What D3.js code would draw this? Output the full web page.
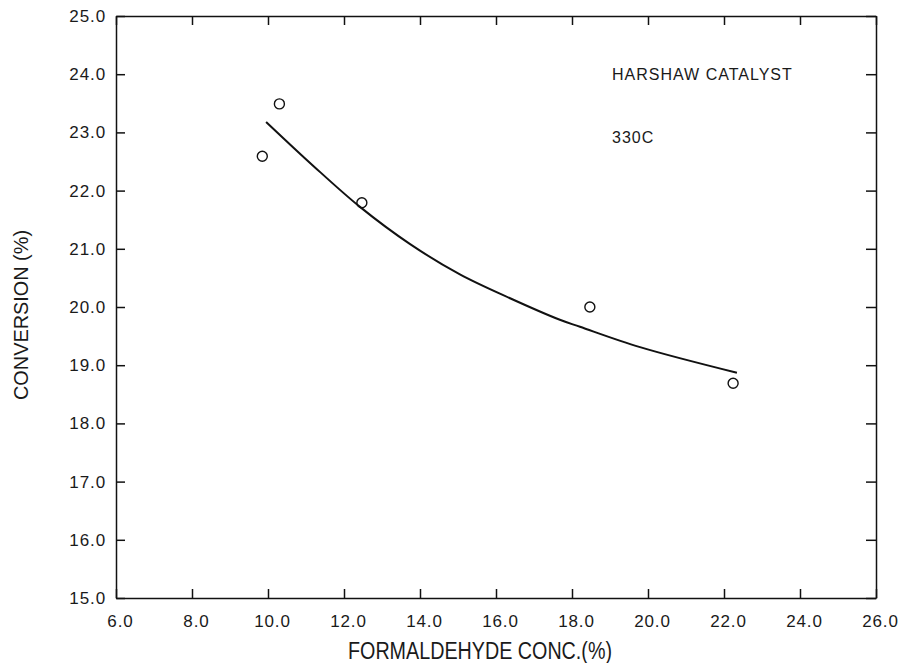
<!DOCTYPE html>
<html>
<head>
<meta charset="utf-8">
<script src="https://cdn.jsdelivr.net/npm/d3@7"></script>
<style>
  body { margin: 0; background: #fff; }
  svg text { font-family: "Liberation Sans", Arial, sans-serif; fill: #1a1a1a; }
  .tick text { font-size: 17px; letter-spacing: 0.9px; }
  .axis path, .axis line { stroke: #111; stroke-width: 1.5; }
</style>
</head>
<body>
<svg id="chart"></svg>
<script>
// measured points
let conc = [9.85, 10.3, 12.47, 18.47, 22.24];
let conversion = [22.59, 23.49, 21.79, 20.0, 18.69];

// fitted curve
let fitConc = [9.95, 11.2, 12.42, 13.74, 15.05, 16.37, 17.68, 18.21, 19.79, 22.34];
let fitConv = [23.18, 22.42, 21.72, 21.08, 20.56, 20.15, 19.78, 19.66, 19.31, 18.87];

let xTicks = [6, 8, 10, 12, 14, 16, 18, 20, 22, 24, 26];
let yTicks = [15, 16, 17, 18, 19, 20, 21, 22, 23, 24, 25];

let notes = ["HARSHAW CATALYST", "330C"];

function createChart() {
    let w = 898, h = 663;
    let left = 116, right = 876, top = 16, bottom = 598;

    let svg = d3.select("#chart")
        .attr('width', w)
        .attr('height', h);

    let x = d3.scaleLinear().domain([6, 26]).range([left, right]);
    let y = d3.scaleLinear().domain([15, 25]).range([bottom, top]);

    // bottom axis with labels, ticks pointing in
    svg.append('g')
        .attr('class', 'axis')
        .attr('transform', `translate(0,${bottom})`)
        .call(d3.axisBottom(x).tickValues(xTicks).tickSize(-9).tickSizeOuter(0)
            .tickPadding(17).tickFormat(d3.format('.1f')))
        .selectAll('text').attr('dx', 4);

    svg.append('g')
        .attr('class', 'axis')
        .attr('transform', `translate(0,${top})`)
        .call(d3.axisTop(x).tickValues(xTicks).tickSize(-9).tickSizeOuter(0).tickFormat(''));

    svg.append('g')
        .attr('class', 'axis')
        .attr('transform', `translate(${left},0)`)
        .call(d3.axisLeft(y).tickValues(yTicks).tickSize(-9).tickSizeOuter(0)
            .tickPadding(10).tickFormat(d3.format('.1f')));

    svg.append('g')
        .attr('class', 'axis')
        .attr('transform', `translate(${right},0)`)
        .call(d3.axisRight(y).tickValues(yTicks).tickSize(-10).tickSizeOuter(0).tickFormat(''));

    svg.selectAll('.tick text').attr('fill', '#1a1a1a');

    // fitted curve
    let line = d3.line()
        .x(d => x(d[0]))
        .y(d => y(d[1]))
        .curve(d3.curveCatmullRom);

    svg.append('path')
        .datum(d3.zip(fitConc, fitConv))
        .attr('d', line)
        .attr('fill', 'none')
        .attr('stroke', '#111')
        .attr('stroke-width', 2);

    // data points
    svg.selectAll('circle')
        .data(d3.zip(conc, conversion))
        .enter()
        .append('circle')
        .attr('cx', d => x(d[0]))
        .attr('cy', d => y(d[1]))
        .attr('r', 5)
        .attr('fill', 'none')
        .attr('stroke', '#111')
        .attr('stroke-width', 1.4);

    // annotations
    svg.selectAll('text.note')
        .data(notes)
        .enter()
        .append('text')
        .attr('class', 'note')
        .attr('x', 612)
        .attr('y', (d, i) => 80 + i * 63)
        .style('font-size', '16px')
        .style('letter-spacing', '1px')
        .text(d => d);

    // axis titles
    svg.append('text')
        .attr('x', 480)
        .attr('y', 659)
        .attr('text-anchor', 'middle')
        .attr('textLength', 264)
        .attr('lengthAdjust', 'spacingAndGlyphs')
        .style('font-size', '23px')
        .text('FORMALDEHYDE CONC.(%)');

    svg.append('text')
        .attr('transform', 'translate(28,315) rotate(-90)')
        .attr('text-anchor', 'middle')
        .attr('textLength', 170)
        .attr('lengthAdjust', 'spacingAndGlyphs')
        .style('font-size', '20px')
        .text('CONVERSION (%)');
}

window.onload = function() {
    createChart();
}
</script>
</body>
</html>
